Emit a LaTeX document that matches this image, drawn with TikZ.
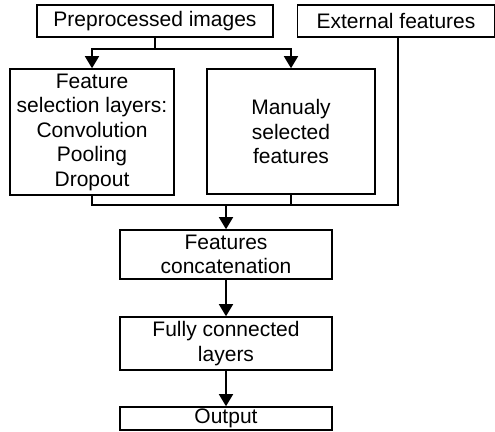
\documentclass[tikz,border=0pt]{standalone}
\usepackage{fontspec}
\setmainfont{Liberation Sans}
\usetikzlibrary{arrows.meta,positioning}

\tikzset{
  stage/.style={draw, line width=1.6pt, align=center, inner sep=0pt,
    font=\fontsize{21}{24.5}\selectfont},
  link/.style={line width=1.6pt},
  flow/.style={link, -{Triangle[length=12pt,width=14pt]}},
}

\begin{document}
\begin{tikzpicture}[x=1pt,y=-1pt]
  \useasboundingbox (0,0) rectangle (495,431);

  % inputs
  \node[stage, minimum width=236pt, minimum height=32pt] (prep) at (155,21) {Preprocessed images};
  \node[stage, minimum width=197pt, minimum height=32pt] (ext) at (396,21) {External features};

  % feature extraction
  \node[stage, minimum width=164pt, minimum height=126pt] (fsel) at (92,132)
    {Feature\\selection layers:\\Convolution\\Pooling\\Dropout};
  \node[stage, minimum width=168pt, minimum height=125pt] (manual) at (291,131.5)
    {Manualy\\selected\\features};

  % classifier
  \node[stage, minimum width=212pt, minimum height=49pt] (concat) at (226,254.5) {Features\\concatenation};
  \node[stage, minimum width=212pt, minimum height=53pt] (fc) at (226,343.5) {Fully connected\\layers};
  \node[stage, minimum width=212pt, minimum height=23pt] (out) at (226,418.5) {Output};

  \coordinate (split) at (155,49);
  \coordinate (mrg) at (226,205);
  \coordinate (extout) at ([xshift=2pt]ext.south);

  \draw[link] (prep.south) -- (split);
  \draw[flow] (split) -| (fsel.north);
  \draw[flow] (split) -| (manual.north);

  \draw[link] (fsel.south) |- (extout |- mrg) -- (extout);
  \draw[link] (manual.south) -- (manual.south |- mrg);
  \draw[flow] (mrg) -- (concat);
  \draw[flow] (concat) -- (fc);
  \draw[flow] (fc) -- (out);
\end{tikzpicture}
\end{document}
